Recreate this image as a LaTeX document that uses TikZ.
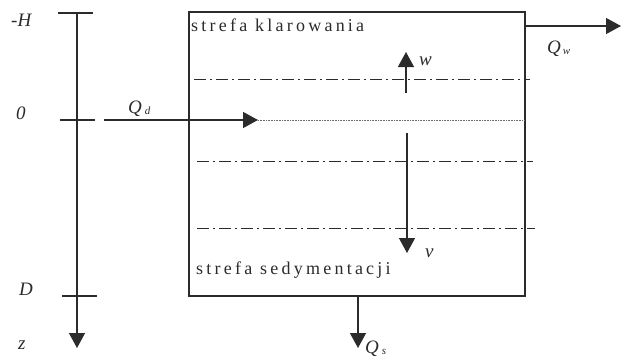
\documentclass[tikz,border=0pt]{standalone}
\usepackage{fontspec}
\setmainfont{Liberation Serif}
\newfontfamily\spacedfont[LetterSpace=18]{Liberation Serif}
\usetikzlibrary{arrows.meta}
\definecolor{ink}{HTML}{2B2B2B}
\tikzset{
  line/.style={draw=ink, line width=1.3pt},
  arr/.style={line, -{Triangle[length=15pt,width=16pt]}},
  dashdot/.style={draw=ink, line width=1pt, dash pattern=on 12pt off 4pt on 2pt off 4pt},
  lbl/.style={text=ink, inner sep=0pt, anchor=base west, font=\fontsize{19}{22}\selectfont\itshape},
  zone/.style={text=ink, inner sep=0pt, anchor=base west, font=\spacedfont\fontsize{18}{21}\selectfont},
  sub/.style={font=\fontsize{11}{12}\selectfont\itshape}
}
\begin{document}
\begin{tikzpicture}[x=1pt,y=-1pt]
\useasboundingbox (0,0) rectangle (622,357);
% axis
\coordinate (axtop) at (77,13);
\coordinate (axbot) at (77,348);
\draw[arr] (axtop) -- (axbot);
\coordinate (tHa) at (58,13);  \coordinate (tHb) at (93,13);
\coordinate (t0a) at (60,120); \coordinate (t0b) at (95,120);
\coordinate (tDa) at (62,296); \coordinate (tDb) at (97,296);
\draw[line] (tHa) -- (tHb);
\draw[line] (t0a) -- (t0b);
\draw[line] (tDa) -- (tDb);
\node[lbl] (lH) at (11,26) {-H};
\node[lbl] (l0) at (16,119) {0};
\node[lbl] (lD) at (19,295) {D};
\node[lbl] (lz) at (18,349) {z};
% tank
\coordinate (bTL) at (189,12);
\coordinate (bBR) at (525,296);
\draw[line] (bTL) rectangle (bBR);
% zone lines
\coordinate (d1a) at (194,79);  \coordinate (d1b) at (530,79);
\coordinate (d2a) at (197,161); \coordinate (d2b) at (533,161);
\coordinate (d3a) at (197,228); \coordinate (d3b) at (535,228);
\draw[dashdot] (d1a) -- (d1b);
\draw[dashdot] (d2a) -- (d2b);
\draw[dashdot] (d3a) -- (d3b);
% inflow
\coordinate (qdS) at (104,120);
\coordinate (qdE) at (258,120);
\coordinate (dotE) at (525,120);
\draw[arr] (qdS) -- (qdE);
\draw[ink!70, line width=0.6pt, densely dotted] (qdE) -- (dotE);
\node[lbl] (lQd) at (128,113) {Q\kern3pt\raisebox{-1pt}{\fontsize{11}{12}\selectfont d}};
% outflow top
\coordinate (qwS) at (525,26);
\coordinate (qwE) at (621,26);
\draw[arr] (qwS) -- (qwE);
\node[lbl] (lQw) at (547,53) {Q\kern2pt\raisebox{-1pt}{\fontsize{11}{12}\selectfont w}};
% outflow bottom
\coordinate (qsS) at (358,296);
\coordinate (qsE) at (358,348);
\draw[arr] (qsS) -- (qsE);
\node[lbl] (lQs) at (365,353) {Q\kern3pt\raisebox{-1pt}{\fontsize{11}{12}\selectfont s}};
% velocities
\coordinate (wS) at (406,93);
\coordinate (wE) at (406,52);
\draw[arr] (wS) -- (wE);
\node[lbl] (lw) at (419,65) {w};
\coordinate (vS) at (407,133);
\coordinate (vE) at (407,253);
\draw[arr] (vS) -- (vE);
\node[lbl] (lv) at (425,257) {v};
% zone texts
\node[zone] (zk) at (191,31) {strefa klarowania};
\node[zone] (zs) at (196,274) {strefa sedymentacji};
\end{tikzpicture}
\end{document}
